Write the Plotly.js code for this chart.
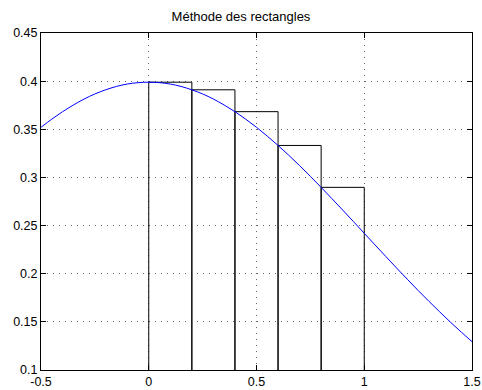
<!DOCTYPE html>
<html>
<head>
<meta charset="utf-8">
<script src="https://cdn.plot.ly/plotly-3.0.1.min.js"></script>
<style>html,body{margin:0;padding:0;background:#fff;}#chart{width:482px;height:390px;}</style>
</head>
<body>
<div id="chart"></div>
<script>
// Curve values
var curveX = [-0.5,-0.45,-0.4,-0.35,-0.3,-0.25,-0.2,-0.15,-0.1,-0.05,0,0.05,0.1,0.15,0.2,0.25,0.3,0.35,0.4,0.45,0.5,0.55,0.6,0.65,0.7,0.75,0.8,0.85,0.9,0.95,1.0,1.05,1.1,1.15,1.2,1.25,1.3,1.35,1.4,1.45,1.5];
var curveY = [0.3521,0.3605,0.3683,0.3752,0.3814,0.3867,0.3910,0.3945,0.3970,0.3984,0.3989,0.3984,0.3970,0.3945,0.3910,0.3867,0.3814,0.3752,0.3683,0.3605,0.3521,0.3429,0.3332,0.3230,0.3123,0.3011,0.2897,0.2780,0.2661,0.2541,0.2420,0.2299,0.2179,0.2059,0.1942,0.1826,0.1714,0.1604,0.1497,0.1394,0.1295];
// Rectangles: left edges, right edges, heights
var rectLeft = [0, 0.2, 0.4, 0.6, 0.8];
var rectRight = [0.2, 0.4, 0.6, 0.8, 1.0];
var rectHeight = [0.3989, 0.3910, 0.3683, 0.3332, 0.2897];
var xTicks = [-0.5, 0, 0.5, 1, 1.5];
var xTickText = ['-0.5', '0', '0.5', '1', '1.5'];
var yTicks = [0.1, 0.15, 0.2, 0.25, 0.3, 0.35, 0.4, 0.45];
var yTickText = ['0.1', '0.15', '0.2', '0.25', '0.3', '0.35', '0.4', '0.45'];
var titleText = 'Méthode des rectangles';

var traces = [];
for (var i = 0; i < rectLeft.length; i++) {
  traces.push({
    x: [rectLeft[i], rectLeft[i], rectRight[i], rectRight[i]],
    y: [0, rectHeight[i], rectHeight[i], 0],
    type: 'scatter', mode: 'lines',
    line: {color: '#000000', width: 1},
    hoverinfo: 'skip', showlegend: false
  });
}
traces.push({
  x: curveX, y: curveY, type: 'scatter', mode: 'lines',
  line: {color: '#0000ff', width: 1, shape: 'spline'},
  showlegend: false
});

var font = {family: 'Liberation Sans, Arial, Helvetica, sans-serif', size: 12.5, color: '#000'};
var titleFont = {family: 'Liberation Sans, Arial, Helvetica, sans-serif', size: 13, color: '#000'};
var axisCommon = {
  showline: true, linecolor: '#000', linewidth: 1, mirror: 'ticks',
  ticks: 'inside', ticklen: 5, tickcolor: '#000', tickwidth: 1,
  showgrid: true, gridcolor: '#666', gridwidth: 1, griddash: '1px,5px',
  zeroline: false, tickfont: font
};
var layout = {
  width: 482, height: 390,
  margin: {l: 41, r: 10, t: 33, b: 20, pad: 0},
  paper_bgcolor: '#fff', plot_bgcolor: '#fff',
  font: font,
  title: {text: titleText, font: titleFont, x: 0.5, xanchor: 'center', y: 1 - 16.5/390, yanchor: 'middle'},
  xaxis: Object.assign({}, axisCommon, {range: [-0.5, 1.5], tickvals: xTicks, ticktext: xTickText}),
  yaxis: Object.assign({}, axisCommon, {range: [0.1, 0.45], tickvals: yTicks, ticktext: yTickText}),
  showlegend: false
};
Plotly.newPlot('chart', traces, layout, {displayModeBar: false, staticPlot: true});
</script>
</body>
</html>
